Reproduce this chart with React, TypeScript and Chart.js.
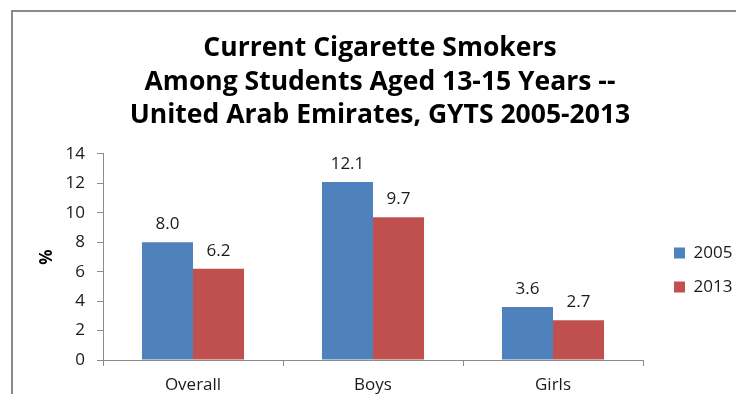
import React, { useEffect, useRef } from "react";
import { Chart, registerables } from "chart.js";

Chart.register(...registerables);

const categories = ["Overall", "Boys", "Girls"];
const series2005 = [8.0, 12.1, 3.6];
const series2013 = [6.2, 9.7, 2.7];
const seriesLabels = ["2005", "2013"];
const titleLines = [
  "Current Cigarette Smokers",
  "Among Students Aged 13-15 Years --",
  "United Arab Emirates, GYTS 2005-2013",
];
const yTitle = "%";

const FONT = "'Open Sans', 'Liberation Sans', sans-serif";
const TEXT = "#1a1a1a";
const AXIS = "#8a8a8a";

const valueLabels = {
  id: "valueLabels",
  afterDatasetsDraw(chart: any) {
    const ctx = chart.ctx;
    ctx.save();
    ctx.font = `17px ${FONT}`;
    ctx.fillStyle = TEXT;
    ctx.textAlign = "center";
    ctx.textBaseline = "middle";
    chart.data.datasets.forEach((ds: any, di: number) => {
      const meta = chart.getDatasetMeta(di);
      meta.data.forEach((el: any, i: number) => {
        ctx.fillText(Number(ds.data[i]).toFixed(1), el.x, el.y - 18);
      });
    });
    ctx.restore();
  },
};

const LEGEND_W = 93;
const legendPlacer = {
  id: "legendPlacer",
  beforeLayout(chart: any) {
    const lg = chart.legend;
    if (lg && !lg._patched) {
      const orig = lg.fit.bind(lg);
      lg.fit = function () {
        orig();
        this.width = LEGEND_W;
      };
      lg._patched = true;
    }
  },
  afterLayout(chart: any) {
    const lg = chart.legend;
    if (!lg) return;
    const pad = lg.options.labels.padding;
    const dx = 666 - pad - lg.left;
    lg.left += dx;
    lg.right += dx;
    const h = lg.bottom - lg.top;
    lg.top = 245 - 8.5 - pad;
    lg.bottom = lg.top + h;
  },
};

export default function App() {
  const ref = useRef<HTMLCanvasElement>(null);
  useEffect(() => {
    if (!ref.current) return;
    const chart = new Chart(ref.current, {
      type: "bar",
      data: {
        labels: categories,
        datasets: [
          { label: seriesLabels[0], data: series2005, backgroundColor: "#4F81BD" },
          { label: seriesLabels[1], data: series2013, backgroundColor: "#C0504D" },
        ],
      },
      options: {
        animation: false,
        responsive: false,
        maintainAspectRatio: false,
        events: [],
        layout: { padding: { left: 16, right: 0, top: 0, bottom: 0 } },
        datasets: {
          bar: { barPercentage: 1.0, categoryPercentage: 0.567 },
        },
        plugins: {
          tooltip: { enabled: false },
          title: {
            display: true,
            text: titleLines,
            color: "#000",
            font: { family: FONT, size: 26.5, weight: "bold", lineHeight: 1.264 },
            padding: { top: 24, bottom: 21.5 },
          },
          legend: {
            position: "right",
            align: "start",
            labels: {
              boxWidth: 11,
              boxHeight: 11,
              padding: 17,
              color: TEXT,
              font: { family: FONT, size: 17 },
            },
          },
        },
        scales: {
          x: {
            grid: {
              offset: true,
              drawOnChartArea: false,
              drawTicks: true,
              tickLength: 6,
              color: AXIS,
            },
            border: { display: true, color: AXIS, width: 1 },
            ticks: { color: TEXT, font: { family: FONT, size: 17 }, padding: 9 },
            afterFit: (s: any) => {
              s.height = 34;
            },
          },
          y: {
            min: 0,
            max: 14,
            ticks: {
              stepSize: 2,
              color: TEXT,
              font: { family: FONT, size: 17 },
              padding: 12,
            },
            grid: {
              drawOnChartArea: false,
              drawTicks: true,
              tickLength: 6,
              color: AXIS,
            },
            border: { display: true, color: AXIS, width: 1 },
            title: {
              display: true,
              text: yTitle,
              color: "#000",
              font: { family: FONT, size: 17, weight: "bold" },
              padding: { top: 13, bottom: 0 },
            },
            afterFit: (s: any) => {
              s.width = 79;
            },
          },
        },
      },
      plugins: [valueLabels, legendPlacer],
    });
    return () => chart.destroy();
  }, []);

  return (
    <div style={{ position: "relative", width: 728, height: 386, overflow: "hidden" }}>
      <div
        style={{
          position: "absolute",
          left: 3,
          top: 2,
          width: 900,
          height: 600,
          border: "2px solid #8a8a8a",
          boxSizing: "border-box",
        }}
      />
      <canvas
        ref={ref}
        width={728}
        height={386}
        style={{ position: "absolute", left: 0, top: 0, width: 728, height: 386 }}
      />
    </div>
  );
}
